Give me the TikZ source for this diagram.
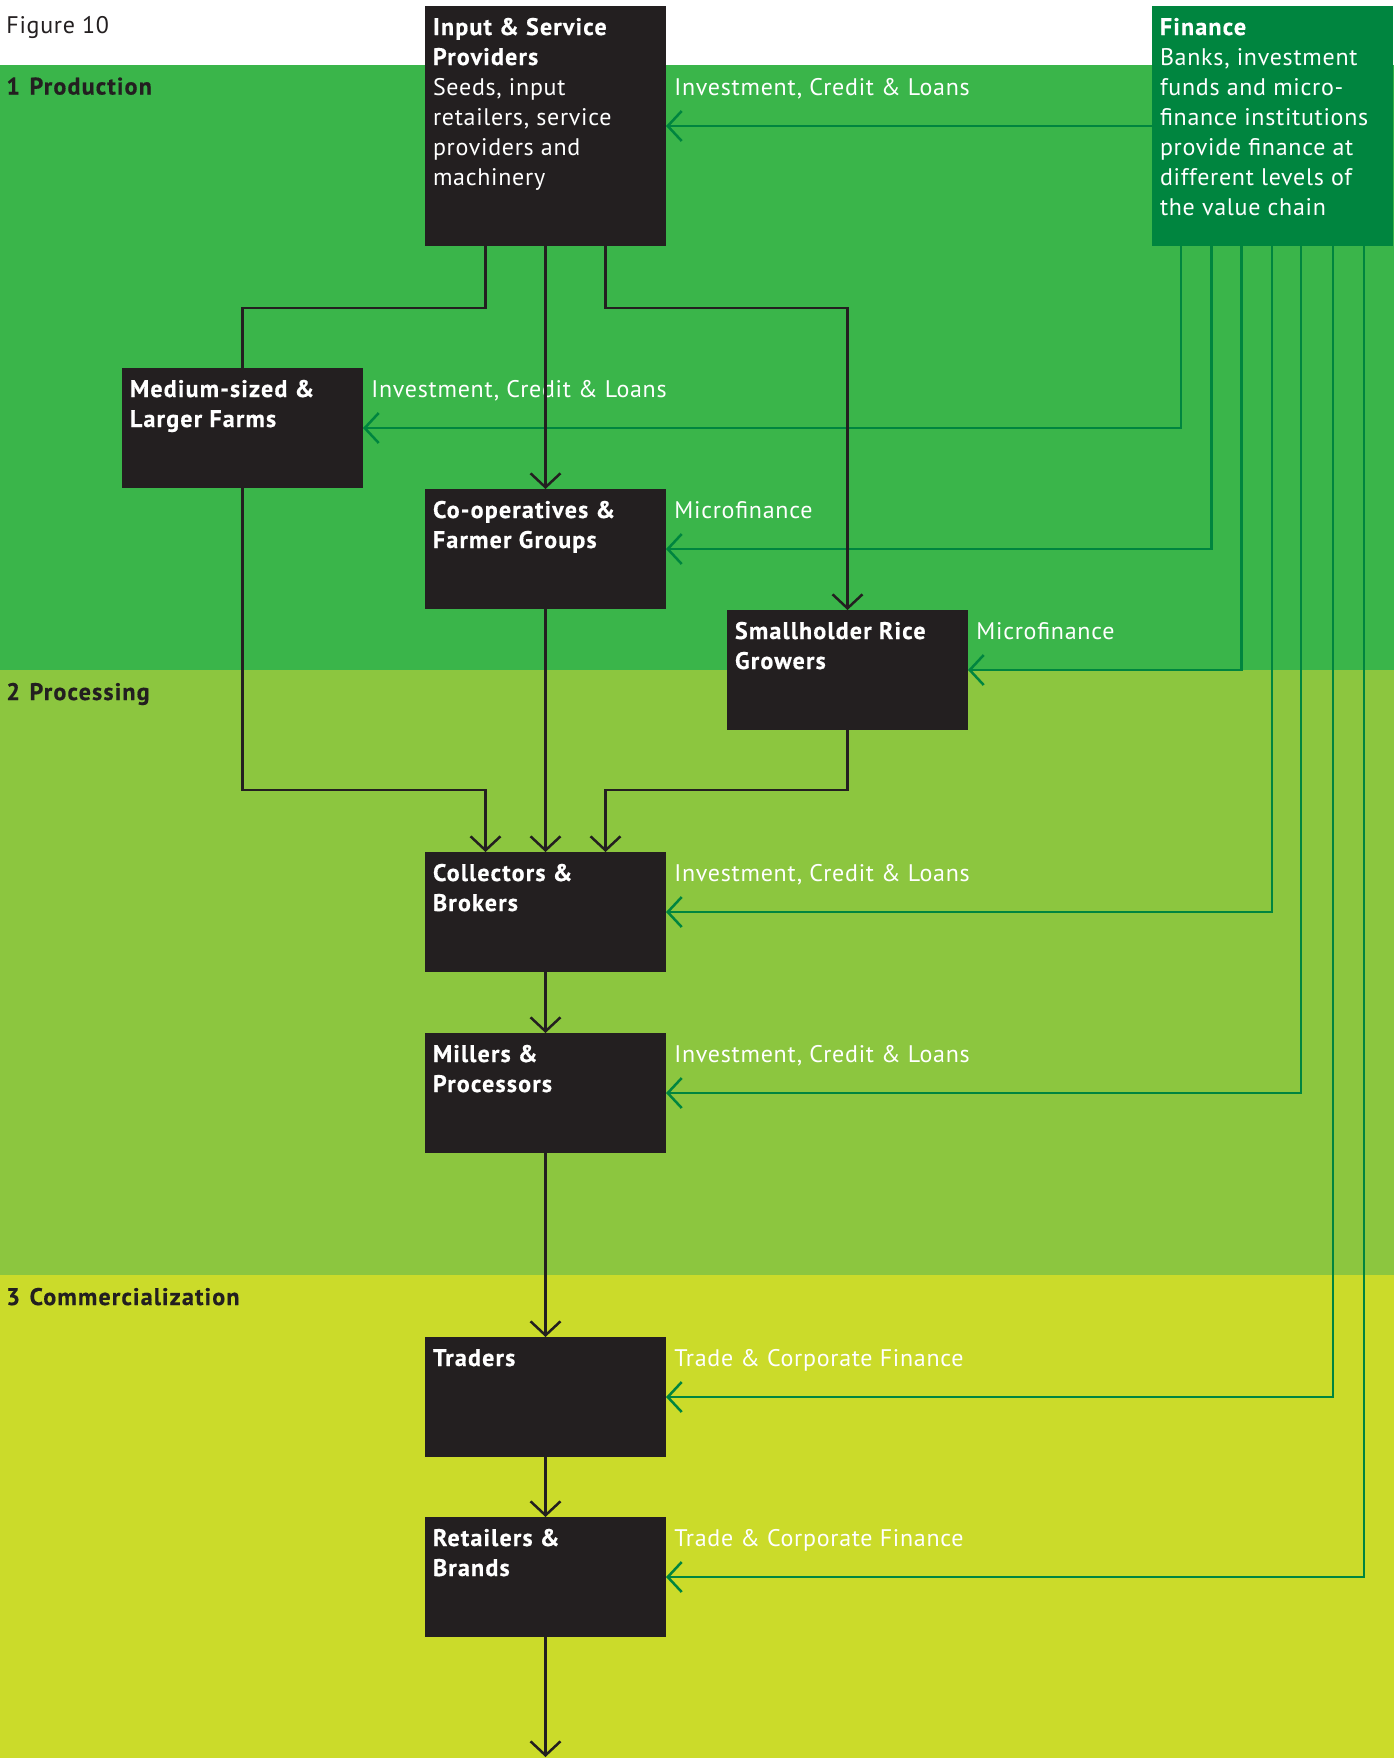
\documentclass[tikz,border=0pt]{standalone}
\usepackage{fontspec}
\setmainfont{PT Sans}[LetterSpace=3, BoldFeatures={LetterSpace=5, FakeBold=0.5}]
\usetikzlibrary{arrows.meta,calc}
\definecolor{prodgreen}{HTML}{3AB54A}
\definecolor{procgreen}{HTML}{8CC63F}
\definecolor{commyellow}{HTML}{CBDB2A}
\definecolor{fingreen}{HTML}{00853F}
\definecolor{boxblack}{HTML}{231F20}
\newcommand\tstrut{\rule{0pt}{14.5pt}}
\newcommand\smallbox[1]{\parbox[t][60pt][t]{112.5pt}{\raggedright\tstrut\bfseries #1}}
\newcommand\bigbox[1]{\parbox[t][120pt][t]{112.5pt}{\raggedright\tstrut #1}}
\tikzset{
  txtfont/.style={font=\fontsize{12}{15}\selectfont},
  chainbox/.style={fill=boxblack, text=white, anchor=north west, inner xsep=4pt, inner ysep=0pt, outer sep=0pt, txtfont},
  finbox/.style={chainbox, fill=fingreen},
  lab/.style={text=white, anchor=base west, inner sep=0pt, txtfont},
  sect/.style={text=boxblack, anchor=base west, inner sep=0pt, txtfont},
  bline/.style={draw=boxblack, line width=1.25pt},
  barrow/.style={bline, -{Straight Barb[length=7pt,width=15pt]}},
  garrow/.style={draw=fingreen, line width=1.25pt, -{Straight Barb[length=7pt,width=15pt]}},
}
\begin{document}
\begin{tikzpicture}[x=0.5pt,y=-0.5pt]
\fill[white] (0,0) rectangle (1394,1758);
\useasboundingbox (0,0) rectangle (1394,1758);
\fill[prodgreen] (0,65) rectangle (1394,670);
\fill[procgreen] (0,670) rectangle (1394,1275);
\fill[commyellow] (0,1275) rectangle (1394,1758);

% section labels
\node[sect] (fig) at (6,33) {Figure 10};
\node[sect, font=\fontsize{12}{15}\selectfont\bfseries] (s1) at (6,94.5) {1\hspace{0.4em}Production};
\node[sect, font=\fontsize{12}{15}\selectfont\bfseries] (s2) at (6,700) {2\hspace{0.4em}Processing};
\node[sect, font=\fontsize{12}{15}\selectfont\bfseries] (s3) at (6,1305) {3\hspace{0.4em}Commercialization};

% boxes
\node[chainbox] (input) at (425,6) {\bigbox{{\bfseries Input \& Service\\Providers}\\Seeds, input\\retailers, service\\providers and\\machinery}};
\node[finbox] (finance) at (1152,6) {\bigbox{{\bfseries Finance}\\Banks, investment\\funds and micro-\\finance institutions\\provide finance at\\different levels of\\the value chain}};
\node[chainbox] (medium) at (122,368) {\smallbox{Medium-sized \&\\Larger Farms}};
\node[chainbox] (coop) at (425,489) {\smallbox{Co-operatives \&\\Farmer Groups}};
\node[chainbox] (small) at (727,610) {\smallbox{Smallholder Rice\\Growers}};
\node[chainbox] (collect) at (425,852) {\smallbox{Collectors \&\\Brokers}};
\node[chainbox] (millers) at (425,1033) {\smallbox{Millers \&\\Processors}};
\node[chainbox] (traders) at (425,1337) {\smallbox{Traders}};
\node[chainbox] (retail) at (425,1517) {\smallbox{Retailers \&\\Brands}};
\coordinate (end) at (545.5,1757);

% finance labels
\node[lab] (l0) at ($(input.east)+(8,-31)$) {Investment, Credit \& Loans};
\node[lab] (l1) at ($(medium.east)+(8,-31)$) {Investment, Credit \& Loans};
\node[lab] (l2) at ($(coop.east)+(8,-31)$) {Microfinance};
\node[lab] (l3) at ($(small.east)+(8,-31)$) {Microfinance};
\node[lab] (l4) at ($(collect.east)+(8,-31)$) {Investment, Credit \& Loans};
\node[lab] (l5) at ($(millers.east)+(8,-31)$) {Investment, Credit \& Loans};
\node[lab] (l6) at ($(traders.east)+(8,-31)$) {Trade \& Corporate Finance};
\node[lab] (l7) at ($(retail.east)+(8,-31)$) {Trade \& Corporate Finance};

% finance connectors
\draw[garrow] (finance.west) -- (input.east);
\draw[garrow] ($(finance.south west)+(29,0)$) |- (medium.east);
\draw[garrow] ($(finance.south west)+(59.5,0)$) |- (coop.east);
\draw[garrow] ($(finance.south west)+(89.5,0)$) |- (small.east);
\draw[garrow] ($(finance.south west)+(120,0)$) |- (collect.east);
\draw[garrow] ($(finance.south west)+(149,0)$) |- (millers.east);
\draw[garrow] ($(finance.south west)+(181,0)$) |- (traders.east);
\draw[garrow] ($(finance.south west)+(212,0)$) |- (retail.east);

% value chain connectors
\draw[bline] ($(input.south)+(-60,0)$) -- ++(0,62) -| (medium.north);
\draw[barrow] (input.south) -- (coop.north);
\draw[barrow] ($(input.south)+(60,0)$) -- ++(0,62) -| (small.north);
\draw[barrow] (medium.south) -- ++(0,302) -| ($(collect.north)+(-60,0)$);
\draw[barrow] (coop.south) -- (collect.north);
\draw[barrow] (small.south) -- ++(0,60) -| ($(collect.north)+(60,0)$);
\draw[barrow] (collect.south) -- (millers.north);
\draw[barrow] (millers.south) -- (traders.north);
\draw[barrow] (traders.south) -- (retail.north);
\draw[barrow] (retail.south) -- (end);
\end{tikzpicture}
\end{document}
